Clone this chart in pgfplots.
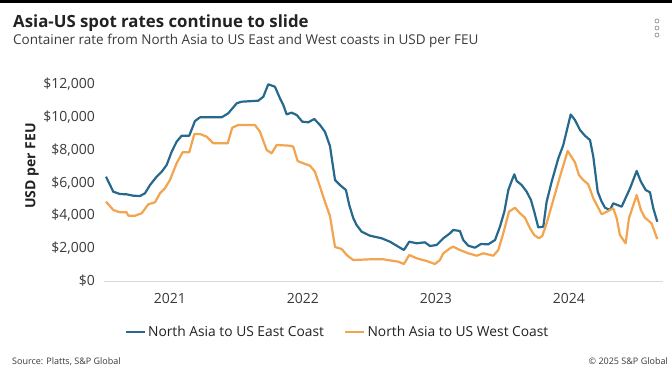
\documentclass[border=0pt]{standalone}
\usepackage{fontspec}
\setmainfont{Open Sans}
\usepackage{pgfplots}
\pgfplotsset{compat=1.18}
\definecolor{eastc}{HTML}{27698C}
\definecolor{westc}{HTML}{F2A44E}
\definecolor{txt}{HTML}{222222}
\definecolor{sub}{HTML}{3A3A3A}

\pgfplotstableread{
x y
2020.519 6370
2020.574 5453
2020.624 5313
2020.674 5295
2020.724 5209
2020.774 5191
2020.812 5356
2020.850 5863
2020.900 6370
2020.938 6675
2020.975 7084
2021.013 7896
2021.050 8507
2021.088 8873
2021.145 8873
2021.188 9771
2021.226 9997
2021.389 9997
2021.438 10241
2021.502 10852
2021.539 10950
2021.664 11011
2021.702 11255
2021.739 12012
2021.789 11866
2021.827 11158
2021.852 10748
2021.877 10180
2021.915 10278
2021.953 10138
2021.995 9729
2022.040 9692
2022.085 9893
2022.128 9527
2022.165 9118
2022.203 8244
2022.241 6168
2022.278 5863
2022.323 5557
2022.348 4641
2022.378 3847
2022.403 3420
2022.441 3011
2022.504 2766
2022.592 2608
2022.654 2400
2022.717 2095
2022.759 1893
2022.799 2400
2022.855 2302
2022.917 2363
2022.955 2137
2023.005 2199
2023.055 2608
2023.105 2913
2023.130 3115
2023.180 3054
2023.205 2504
2023.243 2156
2023.293 2034
2023.338 2260
2023.393 2241
2023.444 2504
2023.481 3316
2023.514 4232
2023.544 5557
2023.569 6107
2023.589 6516
2023.607 6107
2023.644 5863
2023.682 5453
2023.714 4947
2023.739 4232
2023.769 3279
2023.807 3316
2023.832 4843
2023.870 6064
2023.920 7493
2023.957 8300
2024.013 10168
2024.045 9832
2024.083 9222
2024.120 8873
2024.158 8611
2024.183 7591
2024.216 5453
2024.246 4843
2024.271 4476
2024.308 4336
2024.333 4745
2024.396 4537
2024.459 5661
2024.509 6718
2024.541 6064
2024.577 5557
2024.609 5417
2024.634 4440
2024.664 3621
}\eastdata

\pgfplotstableread{
x y
2020.519 4843
2020.574 4336
2020.624 4195
2020.674 4195
2020.687 3988
2020.737 3988
2020.787 4134
2020.837 4684
2020.887 4806
2020.925 5356
2020.962 5661
2021.000 6168
2021.050 7188
2021.095 7860
2021.145 7860
2021.183 8977
2021.226 8977
2021.276 8812
2021.326 8409
2021.434 8409
2021.468 9362
2021.513 9527
2021.639 9527
2021.677 9118
2021.727 8000
2021.764 7799
2021.802 8306
2021.902 8263
2021.927 8202
2021.960 7328
2022.002 7188
2022.053 7041
2022.090 6675
2022.128 5759
2022.165 4843
2022.203 3970
2022.241 2076
2022.291 1954
2022.329 1588
2022.378 1282
2022.504 1325
2022.604 1325
2022.717 1179
2022.759 1038
2022.799 1588
2022.855 1386
2022.930 1221
2022.992 1038
2023.030 1282
2023.055 1692
2023.105 1997
2023.130 2095
2023.180 1893
2023.243 1692
2023.306 1545
2023.356 1692
2023.431 1545
2023.469 1893
2023.506 2913
2023.549 4232
2023.594 4476
2023.632 4134
2023.669 3866
2023.707 3218
2023.739 2809
2023.774 2608
2023.799 2748
2023.832 3524
2023.882 4947
2023.932 6370
2023.990 7939
2024.045 7249
2024.075 6473
2024.107 6168
2024.145 5905
2024.183 5050
2024.246 4073
2024.284 4232
2024.333 4440
2024.359 3829
2024.383 2809
2024.426 2302
2024.451 3829
2024.509 5252
2024.541 4336
2024.571 3866
2024.621 3524
2024.664 2565
}\westdata

\begin{document}
\begin{tikzpicture}
\path[fill=white] (0,0) rectangle (672pt,-370pt);
\fill[black] (0,0) rectangle (672pt,-3pt);
\node[anchor=base west, inner sep=0pt, text=txt] at (13pt,-27.5pt) {\fontsize{16.8}{20}\selectfont\bfseries Asia-US spot rates continue to slide};
\node[anchor=base west, inner sep=0pt, text=sub] at (13pt,-44pt) {\fontsize{13.5}{16}\selectfont Container rate from North Asia to US East and West coasts in USD per FEU};
\foreach \yy in {21,28,35} {\draw[gray, line width=0.6pt] (657pt,-\yy pt) circle (2pt);}
\node[rotate=90, inner sep=0pt, text=txt] at (32pt,-166pt) {\fontsize{14}{16}\selectfont\bfseries USD per FEU};
\node[anchor=base west, inner sep=0pt, text=sub] at (12pt,-364pt) {\fontsize{9}{11}\selectfont Source: Platts, S\&P Global};
\node[anchor=base east, inner sep=0pt, text=sub] at (668pt,-364pt) {\fontsize{9}{11}\selectfont © 2025 S\&P Global};
\begin{axis}[
  at={(104pt,-281pt)}, anchor=south west,
  scale only axis, width=559pt, height=196.5pt,
  xmin=2020.504, xmax=2024.707, ymin=0, ymax=12000,
  clip=false,
  scaled y ticks=false, scaled x ticks=false,
  axis x line*=bottom, axis y line*=left,
  x axis line style={draw=black!15, line width=0.8pt, -},
  y axis line style={draw=none},
  major tick length=0pt,
  xtick={2021,2022,2023,2024},
  xticklabels={2021,2022,2023,2024},
  ytick={0,2000,4000,6000,8000,10000,12000},
  yticklabels={\$0,{\$2,000},{\$4,000},{\$6,000},{\$8,000},{\$10,000},{\$12,000}},
  tick label style={font=\fontsize{14}{16}\selectfont, text=sub},
  yticklabel style={anchor=east, inner sep=0pt, xshift=-9pt},
  xticklabel style={anchor=north, inner sep=0pt, yshift=-12pt},
  legend style={at={(0.4177,-0.2595)}, anchor=center, draw=none, fill=none,
    legend columns=2, font=\fontsize{13.8}{16}\selectfont, text=txt,
    /tikz/every even column/.append style={column sep=18pt}},
  legend image code/.code={\draw[#1, line width=2.5pt] (0pt,0pt) -- (19pt,0pt);},
]
\addplot[eastc, line width=2.2pt, line join=round] table[x=x,y=y] {\eastdata};
\addlegendentry{North Asia to US East Coast}
\addplot[westc, line width=2.2pt, line join=round] table[x=x,y=y] {\westdata};
\addlegendentry{North Asia to US West Coast}
\end{axis}
\end{tikzpicture}
\end{document}
